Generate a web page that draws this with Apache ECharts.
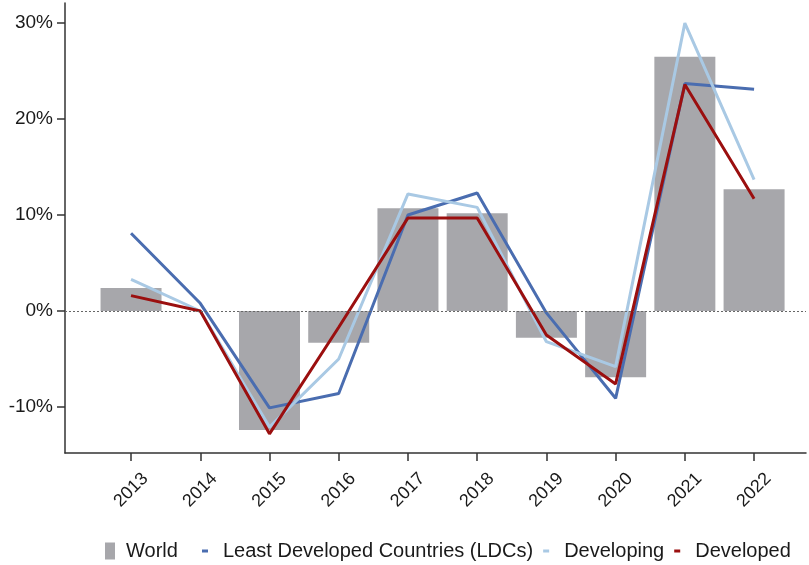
<!DOCTYPE html>
<html>
<head>
<meta charset="utf-8">
<script src="https://cdn.jsdelivr.net/npm/echarts@6/dist/echarts.min.js"></script>
<style>html,body{margin:0;padding:0;background:#fff}#c{width:809px;height:565px}</style>
</head>
<body>
<div id="c"></div>
<script>
var years = [2013, 2014, 2015, 2016, 2017, 2018, 2019, 2020, 2021, 2022];
var world = [2.4, 0, -12.4, -3.3, 10.7, 10.2, -2.8, -6.9, 26.5, 12.7];
var ldc = [8.1, 0.8, -10.1, -8.6, 10.0, 12.3, -0.2, -9.1, 23.7, 23.1];
var developing = [3.3, 0, -12.1, -5.0, 12.2, 10.8, -3.2, -5.8, 30.0, 13.7];
var developed = [1.6, 0, -12.8, -1.7, 9.7, 9.7, -2.5, -7.6, 23.6, 11.7];
var yTicks = [-10, 0, 10, 20, 30];

function pairs(vals) { return years.map(function (y, i) { return [y, vals[i]]; }); }

var font = 'Liberation Sans, Arial, sans-serif';
var chart = echarts.init(document.getElementById('c'), null, { renderer: 'canvas' });
chart.setOption({
  animation: false,
  backgroundColor: '#fff',
  grid: { left: 65, right: 3, top: 3, bottom: 112, containLabel: false },
  legend: [
    {
      data: ['World'], left: 105, top: 541, padding: 0, itemWidth: 10, itemHeight: 17,
      icon: 'rect',
      textStyle: { fontFamily: font, fontSize: 20, color: '#1a1a1a', padding: [0, 0, 0, 6] }
    },
    {
      data: ['Least Developed Countries (LDCs)', 'Developing', 'Developed'],
      left: 202, top: 541, padding: 0, itemWidth: 6, itemHeight: 3, itemGap: 10, icon: 'rect',
      textStyle: { fontFamily: font, fontSize: 20, color: '#1a1a1a', padding: [0, 0, 0, 10] }
    }
  ],
  xAxis: {
    type: 'value', min: 2012.046, max: 2022.75,
    splitLine: { show: false },
    axisLine: { show: true, onZero: false, lineStyle: { color: '#333', width: 1.5 } },
    axisTick: { show: true, customValues: years, length: 8, lineStyle: { color: '#333', width: 1.5 } },
    axisLabel: {
      customValues: years, rotate: 45, align: 'center', verticalAlign: 'middle', margin: 37,
      fontFamily: font, fontSize: 18, color: '#1a1a1a',
      formatter: function (v) { return String(Math.round(v)); }
    }
  },
  yAxis: {
    type: 'value', min: -14.8, max: 32.1,
    splitLine: { show: false },
    axisLine: { show: true, onZero: false, lineStyle: { color: '#333', width: 1.5 } },
    axisTick: { show: true, customValues: yTicks, length: 8, lineStyle: { color: '#333', width: 1.5 } },
    axisLabel: {
      customValues: yTicks, margin: 12, fontFamily: font, fontSize: 19, color: '#1a1a1a',
      formatter: function (v) { return v + '%'; }
    }
  },
  series: [
    {
      name: 'World', type: 'bar', data: pairs(world), barWidth: 61,
      itemStyle: { color: '#a7a7ab' },
      markLine: {
        silent: true, symbol: 'none', label: { show: false },
        lineStyle: { color: '#666', type: [2, 2], width: 1 },
        data: [{ yAxis: 0 }]
      }
    },
    {
      name: 'Least Developed Countries (LDCs)', type: 'line', data: pairs(ldc),
      symbol: 'none', lineStyle: { color: '#4a6db0', width: 3 }, itemStyle: { color: '#4a6db0' }
    },
    {
      name: 'Developing', type: 'line', data: pairs(developing),
      symbol: 'none', lineStyle: { color: '#a9c9e4', width: 3 }, itemStyle: { color: '#a9c9e4' }
    },
    {
      name: 'Developed', type: 'line', data: pairs(developed),
      symbol: 'none', lineStyle: { color: '#9b0f0f', width: 3 }, itemStyle: { color: '#9b0f0f' }
    }
  ]
});
</script>
</body>
</html>
